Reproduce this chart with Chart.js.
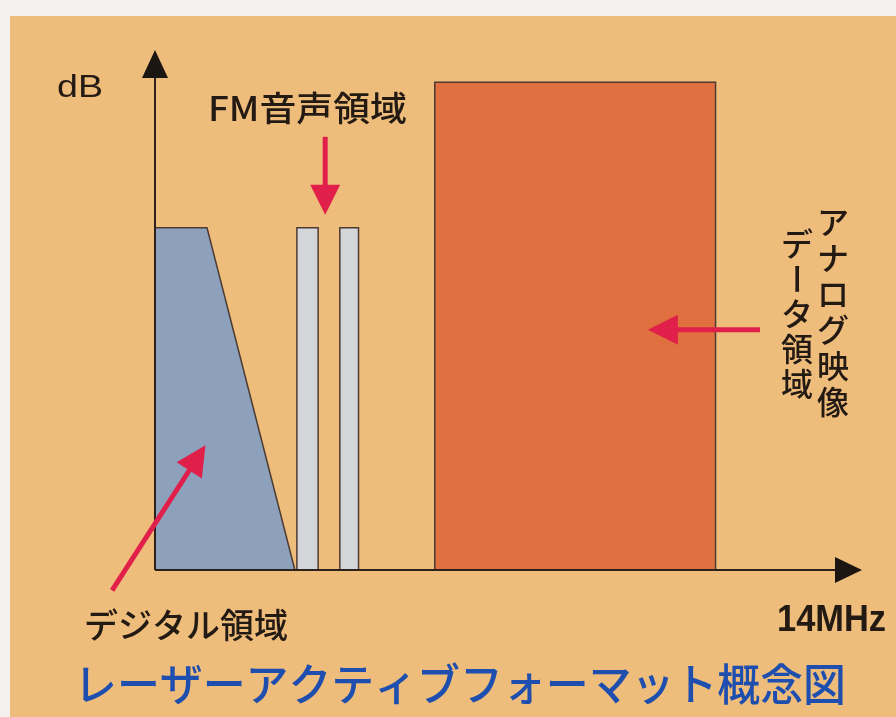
<!DOCTYPE html>
<html>
<head>
<meta charset="utf-8">
<script src="https://cdn.jsdelivr.net/npm/chart.js@4"></script>
<style>
  html, body { margin: 0; padding: 0; background: #f4f2ef; }
  #wrap { width: 896px; height: 717px; }
</style>
</head>
<body>
<div id="wrap"><canvas id="laserChart" width="896" height="717"></canvas></div>
<script>
// frequency (MHz-ish units, 0..14) and level (dB, 0..100) of each region
var digitalX = [0, 0, 1.03, 2.77];
var digitalY = [0, 65.8, 65.8, 0];
var fm1X = [2.81, 2.81, 3.23, 3.23];
var fm2X = [3.66, 3.66, 4.03, 4.03];
var fmY = [0, 65.8, 65.8, 0];
var analogX = [5.54, 5.54, 11.1, 11.1];
var analogY = [0, 93.8, 93.8, 0];

var xMax = 14, yMax = 100;
var axisLabels = { y: 'dB', x: '14MHz' };
var title = 'レーザーアクティブフォーマット概念図';

// arrows: [fromX, fromY, toX, toY] in data units
var arrows = [
  [3.37, 83.3, 3.37, 68.3],
  [11.98, 46.2, 9.76, 46.2],
  [-0.85, -3.9, 1.0, 24.0]
];

function pts(xs, ys) {
  return xs.map(function(x, i) { return { x: x, y: ys[i] }; });
}

function region(label, xs, ys, color) {
  return {
    label: label,
    data: pts(xs, ys),
    showLine: true,
    fill: 'origin',
    backgroundColor: color,
    borderColor: '#4b3b33',
    borderWidth: 1.5,
    pointRadius: 0,
    tension: 0
  };
}

// draw text squeezed/stretched to a given width
function fitText(c, text, x, y, width) {
  var w = c.measureText(text).width;
  c.save();
  c.translate(x, y);
  c.scale(width / w, 1);
  c.fillText(text, 0, 0);
  c.restore();
}

var decor = {
  id: 'decor',
  beforeDraw: function(chart) {
    var c = chart.ctx;
    c.save();
    c.fillStyle = '#f4f2ef';
    c.fillRect(0, 0, chart.width, chart.height);
    c.fillStyle = '#efbd7b';
    c.fillRect(10, 16, chart.width - 10, chart.height - 16);
    c.restore();
  },
  afterDatasetsDraw: function(chart) {
    var c = chart.ctx, xs = chart.scales.x, ys = chart.scales.y;
    var x0 = xs.getPixelForValue(0), y0 = ys.getPixelForValue(0);
    var xEnd = xs.getPixelForValue(xMax), yEnd = ys.getPixelForValue(yMax);
    c.save();
    // axes
    c.strokeStyle = '#2b221c';
    c.fillStyle = '#1c1612';
    c.lineWidth = 2;
    c.beginPath();
    c.moveTo(x0, y0); c.lineTo(x0, yEnd + 20);
    c.moveTo(x0, y0); c.lineTo(xEnd - 20, y0);
    c.stroke();
    c.beginPath();
    c.moveTo(x0, yEnd); c.lineTo(x0 - 13, yEnd + 28); c.lineTo(x0 + 13, yEnd + 28); c.closePath();
    c.fill();
    c.beginPath();
    c.moveTo(xEnd, y0); c.lineTo(xEnd - 27, y0 - 13); c.lineTo(xEnd - 27, y0 + 13); c.closePath();
    c.fill();

    // red arrows
    c.strokeStyle = '#e0204a';
    c.fillStyle = '#e0204a';
    c.lineWidth = 5;
    arrows.forEach(function(a) {
      var ax = xs.getPixelForValue(a[0]), ay = ys.getPixelForValue(a[1]);
      var bx = xs.getPixelForValue(a[2]), by = ys.getPixelForValue(a[3]);
      var ang = Math.atan2(by - ay, bx - ax);
      var hl = 30, hw = 15;
      var hx = bx - Math.cos(ang) * hl, hy = by - Math.sin(ang) * hl;
      c.beginPath();
      c.moveTo(ax, ay); c.lineTo(hx + Math.cos(ang) * 2, hy + Math.sin(ang) * 2);
      c.stroke();
      c.beginPath();
      c.moveTo(bx, by);
      c.lineTo(hx - Math.sin(ang) * hw, hy + Math.cos(ang) * hw);
      c.lineTo(hx + Math.sin(ang) * hw, hy - Math.cos(ang) * hw);
      c.closePath();
      c.fill();
    });

    // texts
    var jp = '"Noto Sans CJK JP", "Noto Sans", sans-serif';
    var lat = '"Liberation Sans", Arial, sans-serif';
    c.fillStyle = '#231a14';
    c.textBaseline = 'middle';
    c.textAlign = 'left';
    c.font = '31px ' + lat;
    fitText(c, axisLabels.y, 57, 88, 46);
    c.font = '500 34px ' + jp;
    fitText(c, 'FM音声領域', 208, 108, 199);
    fitText(c, 'デジタル領域', 84, 625, 204);
    c.font = 'bold 36px ' + lat;
    fitText(c, axisLabels.x, 777, 621, 109);

    // vertical labels
    c.textAlign = 'center';
    c.font = '500 32px ' + jp;
    function vert(text, cx, top, step) {
      for (var i = 0; i < text.length; i++) {
        var ch = text[i], cy = top + i * step;
        if (ch === 'ー') {
          c.save(); c.translate(cx, cy); c.rotate(Math.PI / 2); c.fillText(ch, 0, 0); c.restore();
        } else {
          c.fillText(ch, cx, cy);
        }
      }
    }
    vert('アナログ映像', 833, 222, 36);
    vert('データ領域', 797, 244, 35);

    // title
    c.fillStyle = '#1f4fae';
    c.textAlign = 'left';
    c.font = '500 44px ' + jp;
    fitText(c, title, 74, 684, 772);
    c.restore();
  }
};

var ctx = document.getElementById('laserChart').getContext('2d');
var laserChart = new Chart(ctx, {
  type: 'scatter',
  data: {
    datasets: [
      region('デジタル領域', digitalX, digitalY, '#8da0bc'),
      region('FM音声1', fm1X, fmY, '#d3d5d9'),
      region('FM音声2', fm2X, fmY, '#d3d5d9'),
      region('アナログ映像データ領域', analogX, analogY, '#e0703f')
    ]
  },
  options: {
    responsive: false,
    animation: false,
    layout: { padding: { left: 155, right: 34, top: 50, bottom: 147 } },
    scales: {
      x: { type: 'linear', min: 0, max: xMax, display: false },
      y: { type: 'linear', min: 0, max: yMax, display: false }
    },
    plugins: {
      legend: { display: false },
      tooltip: { enabled: false }
    }
  },
  plugins: [decor]
});
</script>
</body>
</html>
